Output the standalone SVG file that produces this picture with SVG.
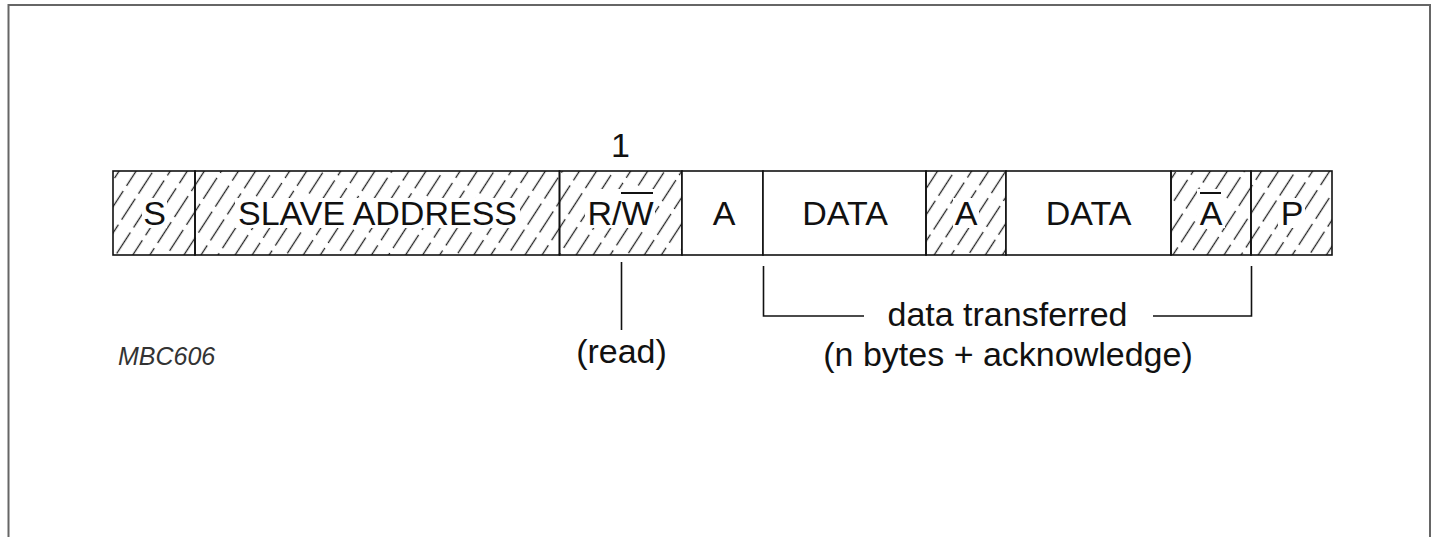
<svg xmlns="http://www.w3.org/2000/svg" width="1435" height="537" viewBox="0 0 1435 537">
  <defs>
    <pattern id="hatch" patternUnits="userSpaceOnUse" width="14.3" height="31" patternTransform="rotate(33)">
      <line x1="7.15" y1="0" x2="7.15" y2="31" stroke="#222" stroke-width="1.3" stroke-dasharray="25 6"/>
    </pattern>
  </defs>
  <style>
    .cell { stroke: #111; stroke-width: 1.6; }
    .hatched { fill: url(#hatch); }
    .plain { fill: #fff; }
    .mask { fill: #fff; stroke: none; }
    .lbl { font-family: "Liberation Sans", Arial, sans-serif; font-size: 34px; fill: #111; text-anchor: middle; }
    .ovl { stroke: #111; stroke-width: 2; }
    .conn { stroke: #111; stroke-width: 1.6; fill: none; }
    .code { font-family: "Liberation Sans", Arial, sans-serif; font-size: 25px; font-style: italic; fill: #333; }
  </style>
  <rect x="0" y="0" width="1435" height="537" fill="#fff"/>
  <path d="M8.5,545 V5 H1430 V545" fill="none" stroke="#666" stroke-width="2"/>

  <g id="node-s">
    <rect class="cell hatched" x="113" y="171" width="82" height="84"/>
    <rect class="mask" x="142" y="198" width="25" height="30"/>
    <text class="lbl" x="154.5" y="225">S</text>
  </g>
  <g id="node-slave-address">
    <rect class="cell hatched" x="195" y="171" width="364.5" height="84"/>
    <rect class="mask" x="235" y="198" width="285" height="30"/>
    <text class="lbl" x="377.5" y="225">SLAVE ADDRESS</text>
  </g>
  <g id="node-rw">
    <rect class="cell hatched" x="559.5" y="171" width="122.5" height="84"/>
    <rect class="mask" x="585" y="189" width="70" height="39"/>
    <text class="lbl" x="620.5" y="225">R/W</text>
    <line class="ovl" x1="621" y1="193" x2="653" y2="193"/>
  </g>
  <g id="node-a1">
    <rect class="cell plain" x="682" y="171" width="81" height="84"/>
    <text class="lbl" x="724" y="225">A</text>
  </g>
  <g id="node-data1">
    <rect class="cell plain" x="763" y="171" width="163" height="84"/>
    <text class="lbl" x="845" y="225">DATA</text>
  </g>
  <g id="node-a2">
    <rect class="cell hatched" x="926" y="171" width="80" height="84"/>
    <rect class="mask" x="953" y="198" width="26" height="30"/>
    <text class="lbl" x="966" y="225">A</text>
  </g>
  <g id="node-data2">
    <rect class="cell plain" x="1006" y="171" width="165" height="84"/>
    <text class="lbl" x="1088.5" y="225">DATA</text>
  </g>
  <g id="node-abar">
    <rect class="cell hatched" x="1171" y="171" width="80" height="84"/>
    <rect class="mask" x="1197" y="189" width="28" height="39"/>
    <text class="lbl" x="1211" y="225">A</text>
    <line class="ovl" x1="1200" y1="193" x2="1221" y2="193"/>
  </g>
  <g id="node-p">
    <rect class="cell hatched" x="1251" y="171" width="81" height="84"/>
    <rect class="mask" x="1278" y="198" width="27" height="30"/>
    <text class="lbl" x="1292" y="225">P</text>
  </g>

  <g id="connectors">
    <line class="conn" x1="621.5" y1="262" x2="621.5" y2="330"/>
    <polyline class="conn" points="763.5,266 763.5,316 864,316"/>
    <polyline class="conn" points="1153,316 1251.5,316 1251.5,266"/>
  </g>

  <g id="labels">
    <text class="lbl" x="620.5" y="157">1</text>
    <text class="lbl" x="621.5" y="363">(read)</text>
    <text class="lbl" x="1007.5" y="326">data transferred</text>
    <text class="lbl" x="1008" y="366">(n bytes + acknowledge)</text>
    <text class="code" x="118" y="365">MBC606</text>
  </g>
</svg>
